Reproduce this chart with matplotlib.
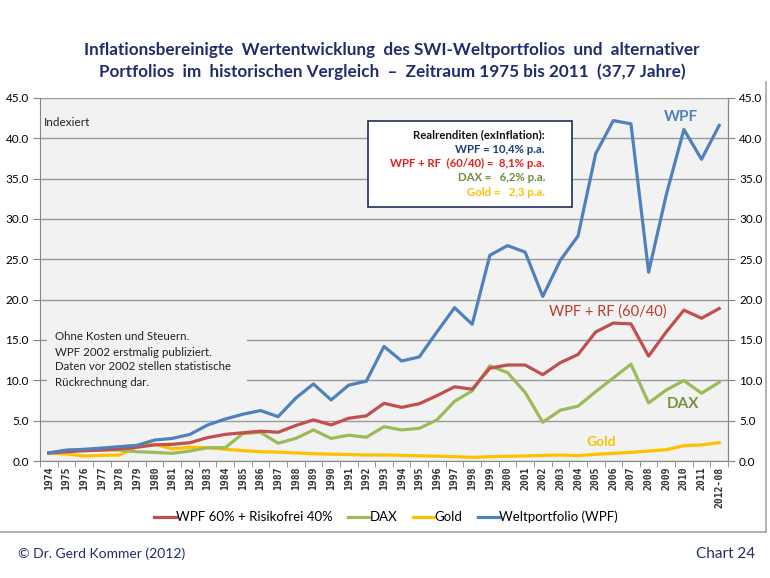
import numpy as np
import matplotlib.pyplot as plt
from matplotlib.lines import Line2D

plt.rcParams['font.family'] = ['Lato', 'DejaVu Sans']

years = [str(y) for y in range(1974, 2012)] + ["2012-08"]

# Weltportfolio (WPF)
wpf = [1.0, 1.36, 1.45, 1.6, 1.78, 1.94, 2.6, 2.8, 3.3, 4.46, 5.2, 5.8, 6.25,
       5.5, 7.8, 9.55, 7.57, 9.4, 9.9, 14.2, 12.4, 12.9, 16.0, 19.0, 16.95,
       25.5, 26.7, 25.9, 20.4, 24.9, 27.9, 38.1, 42.2, 41.8, 23.4, 33.0,
       41.1, 37.4, 41.6]
# WPF 60% + Risikofrei 40%
wpf_rf = [1.0, 1.15, 1.28, 1.36, 1.5, 1.7, 2.0, 2.07, 2.27, 2.9, 3.3, 3.5, 3.7,
          3.56, 4.4, 5.1, 4.47, 5.3, 5.6, 7.15, 6.65, 7.1, 8.1, 9.2, 8.9,
          11.5, 11.9, 11.9, 10.7, 12.2, 13.2, 16.0, 17.1, 17.0, 13.0, 16.0,
          18.7, 17.7, 18.9]
dax = [1.0, 1.3, 1.28, 1.36, 1.36, 1.15, 1.07, 0.95, 1.24, 1.65, 1.65, 3.4,
       3.55, 2.2, 2.8, 3.85, 2.8, 3.2, 2.94, 4.26, 3.85, 4.05, 5.1, 7.4, 8.7,
       11.8, 10.96, 8.5, 4.8, 6.3, 6.8, 8.6, 10.3, 12.0, 7.2, 8.8, 9.97, 8.4,
       9.76]
gold = [0.95, 0.87, 0.62, 0.7, 0.74, 1.78, 2.07, 1.5, 1.7, 1.65, 1.45, 1.28,
        1.15, 1.1, 1.0, 0.9, 0.85, 0.8, 0.75, 0.75, 0.7, 0.65, 0.6, 0.54,
        0.45, 0.54, 0.58, 0.62, 0.7, 0.74, 0.66, 0.83, 0.95, 1.07, 1.24, 1.4,
        1.9, 2.0, 2.27]

c_red = '#C0504D'
c_green = '#9BBB59'
c_gold = '#FFC000'
c_blue = '#4F81BD'
navy = '#1F2D6E'
plot_bg = '#F2F2F2'

W, H = 770, 578
fig = plt.figure(figsize=(7.7, 5.78), dpi=100)


def fx(px):
    return px / W


def fy(py):
    return 1 - py / H


# outer frame (right + bottom)
fig.add_artist(Line2D([fx(0), fx(766)], [fy(532), fy(532)], color='#A6A6A6', lw=1.2))
fig.add_artist(Line2D([fx(766), fx(766)], [fy(82), fy(532)], color='#A6A6A6', lw=1.2))

ax = fig.add_axes([fx(40), fy(461), fx(728) - fx(40), fy(98) - fy(461)])
ax.set_facecolor(plot_bg)
x = np.arange(len(years))

ax.plot(x, gold, color=c_gold, lw=2.3, zorder=3)
ax.plot(x, dax, color=c_green, lw=2.3, zorder=4)
ax.plot(x, wpf_rf, color=c_red, lw=2.3, zorder=5)
ax.plot(x, wpf, color=c_blue, lw=2.3, zorder=6)

ax.set_xlim(-0.5, len(years) - 0.5)
ax.set_ylim(0, 45)
yt = np.arange(0, 46, 5)
ax.set_yticks(yt)
ax.set_yticklabels([f"{v:.1f}" for v in yt], fontsize=8.5)
ax.yaxis.grid(True, color='#9A9A9A', lw=1)
ax.set_axisbelow(True)

ax.set_xticks(x)
ax.set_xticklabels(years, rotation=90, fontsize=7, family='DejaVu Sans Mono',
                   fontweight='bold', color='#333333')
ax.set_xticks(np.arange(-0.5, len(years), 1), minor=True)
ax.tick_params(axis='x', which='major', length=0, pad=4)
ax.tick_params(axis='x', which='minor', length=4, color='#868686')
ax.tick_params(axis='y', length=5, color='#868686', pad=3)

ax.spines['top'].set_visible(False)
for s in ['left', 'bottom', 'right']:
    ax.spines[s].set_color('#868686')

ax2 = ax.twinx()
ax2.set_ylim(0, 45)
ax2.set_yticks(yt)
ax2.set_yticklabels([f"{v:.1f}" for v in yt], fontsize=8.5)
ax2.tick_params(axis='y', length=5, color='#868686', pad=3)
for s in ['top', 'left', 'bottom']:
    ax2.spines[s].set_visible(False)
ax2.spines['right'].set_color('#868686')

# title
fig.text(fx(392), fy(50), "Inflationsbereinigte  Wertentwicklung  des SWI-Weltportfolios  und  alternativer",
         ha='center', va='center', fontsize=12.3, fontweight='bold', color=navy)
fig.text(fx(392), fy(72), "Portfolios  im  historischen Vergleich  \u2013  Zeitraum 1975 bis 2011  (37,7 Jahre)",
         ha='center', va='center', fontsize=12.3, fontweight='bold', color=navy)

fig.text(fx(44), fy(122), "Indexiert", ha='left', va='center', fontsize=8.5, color='#222222')

# returns box
fig.patches.append(plt.Rectangle((fx(368), fy(207)), fx(572) - fx(368), fy(121) - fy(207),
                                 transform=fig.transFigure, facecolor='white',
                                 edgecolor='#1F2D5A', lw=1.2, zorder=10))
box_lines = [("Realrenditen (exInflation):", '#111111'),
             ("WPF = 10,4% p.a.", '#1F3A7A'),
             ("WPF + RF  (60/40) =  8,1% p.a.", '#E0201B'),
             ("DAX =   6,2% p.a.", '#6E8B3D'),
             ("Gold =   2,3 p.a.", '#FFC000')]
for i, (t, c) in enumerate(box_lines):
    fig.text(fx(545), fy(135 + 14.3 * i), t, ha='right', va='center', fontsize=8.2,
             fontweight='bold', color=c, zorder=11)

# notes box (hides the grid lines behind the text)
fig.patches.append(plt.Rectangle((fx(47), fy(392)), fx(247) - fx(47), fy(328) - fy(392),
                                 transform=fig.transFigure, facecolor=plot_bg,
                                 edgecolor='none', zorder=2))
notes = ["Ohne Kosten und Steuern.", "WPF 2002 erstmalig publiziert.",
         "Daten vor 2002 stellen statistische", "R\u00fcckrechnung dar."]
for i, t in enumerate(notes):
    fig.text(fx(55), fy(337 + 15 * i), t, ha='left', va='center', fontsize=8.3,
             color='#222222', zorder=3)

# series labels
fig.text(fx(681), fy(117), "WPF", ha='center', va='center', fontsize=11,
         fontweight='bold', color=c_blue)
fig.text(fx(608), fy(312), "WPF + RF (60/40)", ha='center', va='center', fontsize=10.5,
         color='#C0392B')
fig.text(fx(683), fy(404), "DAX", ha='center', va='center', fontsize=11,
         fontweight='bold', color='#77933C')
fig.text(fx(601), fy(442), "Gold", ha='center', va='center', fontsize=10,
         fontweight='bold', color='#F5C400')

# legend
handles = [Line2D([], [], color=c_red, lw=2.3), Line2D([], [], color=c_green, lw=2.3),
           Line2D([], [], color=c_gold, lw=2.3), Line2D([], [], color=c_blue, lw=2.3)]
labels = ["WPF 60% + Risikofrei 40%", "DAX", "Gold", "Weltportfolio (WPF)"]
fig.legend(handles, labels, loc='center', bbox_to_anchor=(fx(386), fy(517)), ncol=4,
           frameon=False, fontsize=9.5, handlelength=1.6, handletextpad=0.0,
           columnspacing=1.2)

# footer
fig.text(fx(18), fy(554), "\u00a9 Dr. Gerd Kommer (2012)", ha='left', va='center',
         fontsize=10, color=navy)
fig.text(fx(755), fy(554), "Chart 24", ha='right', va='center', fontsize=11, color=navy)

fig.savefig('out.png', dpi=100)
